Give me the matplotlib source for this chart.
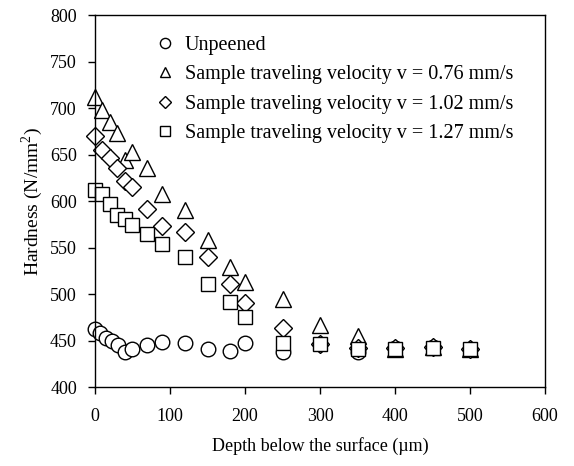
import matplotlib.pyplot as plt
import numpy as np

plt.rcParams["font.family"] = "Liberation Serif"
plt.rcParams["mathtext.fontset"] = "custom"
plt.rcParams["mathtext.rm"] = "Liberation Serif"

# Unpeened
depth_unp = [0, 7, 15, 23, 31, 40, 50, 70, 90, 120, 150, 180, 200, 250, 300, 350, 400, 450, 500]
hard_unp = [462, 458, 453, 449, 445, 438, 441, 445, 448, 447, 441, 439, 447, 438, 446, 438, 442, 443, 441]

depth = [0, 10, 20, 30, 40, 50, 70, 90, 120, 150, 180, 200, 250, 300, 350, 400, 450, 500]
# v = 0.76 mm/s
hard_076 = [712, 698, 685, 673, 644, 653, 635, 608, 590, 558, 529, 513, 495, 467, 455, 441, 443, 441]
# v = 1.02 mm/s
hard_102 = [670, 655, 646, 636, 621, 615, 591, 573, 567, 540, 511, 490, 463, 446, 442, 442, 443, 441]
# v = 1.27 mm/s
hard_127 = [612, 607, 597, 585, 581, 574, 564, 554, 540, 511, 491, 475, 447, 446, 441, 441, 442, 441]

labels = ["Unpeened",
          "Sample traveling velocity v = 0.76 mm/s",
          "Sample traveling velocity v = 1.02 mm/s",
          "Sample traveling velocity v = 1.27 mm/s"]

fig = plt.figure(figsize=(5.74, 4.66), dpi=100)
ax = fig.add_axes([0.1655, 0.1695, 0.784, 0.7983])

kw = dict(linestyle="none", markerfacecolor="white", markeredgecolor="black",
          markeredgewidth=1.0, clip_on=False)
ax.plot(depth_unp, hard_unp, marker="o", markersize=10.5, label=labels[0], **kw)
ax.plot(depth, hard_076, marker="^", markersize=11, label=labels[1], **kw)
ax.plot(depth, hard_102, marker="D", markersize=9.0, label=labels[2], **kw)
ax.plot(depth, hard_127, marker="s", markersize=10.5, label=labels[3], **kw)

ax.set_xlim(0, 600)
ax.set_ylim(400, 800)
ax.set_xticks(np.arange(0, 601, 100))
ax.set_yticks(np.arange(400, 801, 50))
ax.tick_params(labelsize=13, direction="out", length=5, width=1)
ax.tick_params(axis="x", pad=10)
ax.tick_params(axis="y", pad=8)
for s in ax.spines.values():
    s.set_linewidth(1.0)

ax.set_xlabel("Depth below the surface (\u00b5m)", fontsize=13, labelpad=9)
ax.set_ylabel("Hardness (N/mm$^2$)", fontsize=14, labelpad=4)

ax.legend(loc="upper left", bbox_to_anchor=(0.11, 0.97), frameon=False,
          borderpad=0, handlelength=1.0, handletextpad=0.5, labelspacing=0.5,
          markerscale=0.7, fontsize=14.5)

fig.savefig("out.png", dpi=100)
